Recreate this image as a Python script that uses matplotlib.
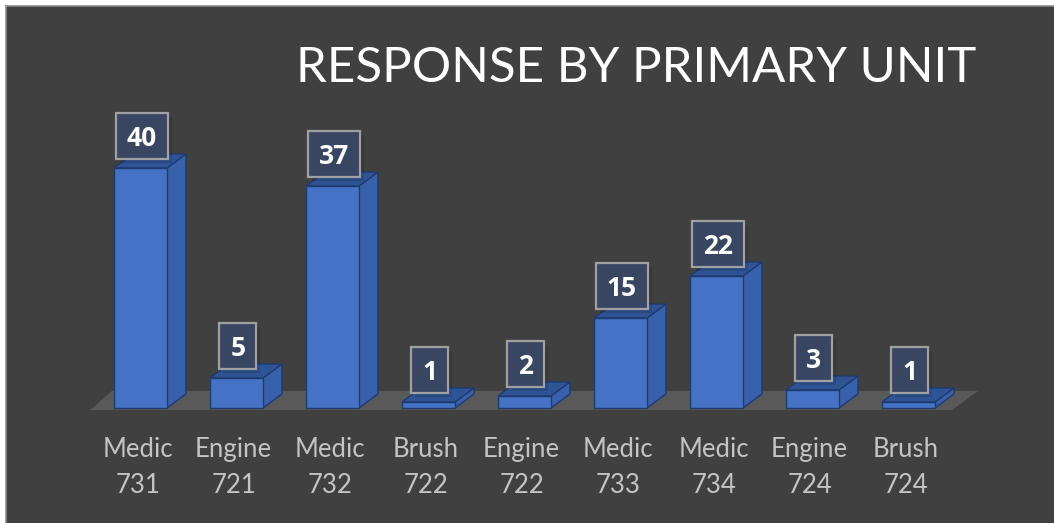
import matplotlib
matplotlib.use("Agg")
import matplotlib.pyplot as plt
from matplotlib.patches import Polygon, Rectangle

# data
units = ["Medic\n731", "Engine\n721", "Medic\n732", "Brush\n722", "Engine\n722",
         "Medic\n733", "Medic\n734", "Engine\n724", "Brush\n724"]
responses = [40, 5, 37, 1, 2, 15, 22, 3, 1]
title = "RESPONSE BY PRIMARY UNIT"

W, H = 1054, 523
BG = "#404040"
FRONT = "#4472c4"; SIDE = "#3861ab"; TOP = "#2f5496"; EDGE = "#1f3a6e"
FONT = "Lato"

# layout (pixel scale of the pseudo-3D plot)
PITCH = 96.0      # px per category
X0 = 140.5        # px centre of first bar front face
Y0 = 408.0        # px of value 0 (from top)
PPU = 6.0         # px per value unit
HALF = 26.5 / PITCH
DX = 19 / PITCH
DY = 14 / PPU

fig = plt.figure(figsize=(W / 100, H / 100), dpi=100)
fig.patch.set_facecolor("white")

ax = fig.add_axes([0, 0, 1, 1])
ax.set_xlim(-X0 / PITCH, (W - X0) / PITCH)
ax.set_ylim((Y0 - H) / PPU, Y0 / PPU)
ax.axis("off")
ax.add_patch(Rectangle((5.5 / W, -0.01), 1.02, (H - 5.5) / H + 0.01,
                       transform=fig.transFigure, facecolor=BG, clip_on=False,
                       edgecolor="#8a8a8a", linewidth=1.2, zorder=0))

# floor
n = len(responses)
fy0, fy1 = -0.35, 2.85
floor = Polygon([(-0.526, fy0), (n - 0.547, fy0), (n - 0.276, fy1), (-0.297, fy1)],
                closed=True, facecolor="#595959", edgecolor="none", zorder=1)
ax.add_patch(floor)

for i, v in enumerate(responses):
    l, r = i - HALF, i + HALF
    side = Polygon([(r, 0), (r + DX, DY), (r + DX, v + DY), (r, v)],
                   facecolor=SIDE, edgecolor=EDGE, linewidth=1, zorder=2 + i)
    top = Polygon([(l, v), (r, v), (r + DX, v + DY), (l + DX, v + DY)],
                  facecolor=TOP, edgecolor=EDGE, linewidth=1, zorder=2 + i)
    front = Rectangle((l, 0), r - l, v, facecolor=FRONT, edgecolor=EDGE,
                      linewidth=1, zorder=2 + i)
    for p in (side, top, front):
        ax.add_patch(p)

    # value label box
    s = str(v)
    bw = (22 + 15 * len(s)) / PITCH
    bh = 46 / PPU
    cx = i + 0.015
    by = v + 9 / PPU
    ax.add_patch(Rectangle((cx - bw / 2 + 4 / PITCH, by - 4 / PPU), bw, bh,
                           facecolor="black", alpha=0.12, edgecolor="none", zorder=20))
    ax.add_patch(Rectangle((cx - bw / 2, by), bw, bh, facecolor="#3a4765",
                           alpha=0.95, edgecolor="#a6a6a6", linewidth=1.6, zorder=21))
    ax.text(cx, by + bh / 2, s, ha="center", va="center_baseline", color="white",
            fontsize=19, fontweight="bold", family="Open Sans", zorder=22)

    # category labels
    top_line, bottom_line = units[i].split("\n")
    ax.text(i - 0.03, (Y0 - 457) / PPU, top_line, ha="center", va="baseline",
            color="#c4c4c4", fontsize=18.5, family=FONT)
    ax.text(i - 0.03, (Y0 - 493) / PPU, bottom_line, ha="center", va="baseline",
            color="#c4c4c4", fontsize=18.5, family=FONT)

ax.text(636 / W, 1 - 82 / H, title, ha="center", va="baseline",
        transform=fig.transFigure, color="white", fontsize=35.5, family=FONT)

fig.savefig("out.png", dpi=100, facecolor=fig.get_facecolor())
